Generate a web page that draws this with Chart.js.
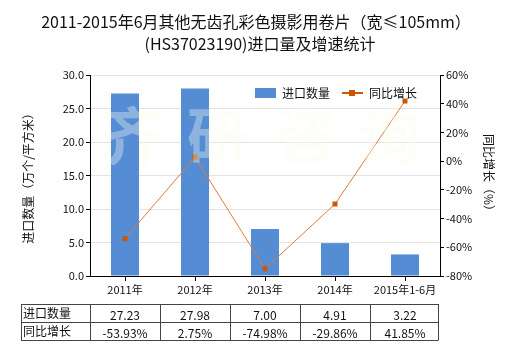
<!DOCTYPE html>
<html>
<head>
<meta charset="utf-8">
<script src="https://cdn.jsdelivr.net/npm/chart.js@4/dist/chart.umd.min.js"></script>
<style>
html,body{margin:0;padding:0;background:#fff;}
#wrap{width:520px;height:350px;position:relative;}
</style>
</head>
<body>
<div id="wrap"><canvas id="c" width="520" height="350"></canvas></div>
<script>
const categories = ['2011年','2012年','2013年','2014年','2015年1-6月'];
const importQty = [27.23, 27.98, 7.00, 4.91, 3.22];
const growthPct = [-53.93, 2.75, -74.98, -29.86, 41.85];
const titleLines = ['2011-2015年6月其他无齿孔彩色摄影用卷片（宽≤105mm）','(HS37023190)进口量及增速统计'];
const seriesNames = ['进口数量','同比增长'];
const leftAxisTitle = '进口数量（万个/平方米）';
const rightAxisTitle = '同比增长（%）';
const watermark = ['齐','研','咨','询'];

const FONT = '"Noto Sans CJK SC", "Noto Sans", sans-serif';
const BLUE = '#548DD4';
const ORANGE_LINE = '#E07A3C';
const ORANGE_PT = '#CC5500';

const overlay = {
  id: 'overlay',
  afterDatasetsDraw(chart) {
    const ctx = chart.ctx;
    ctx.save();
    ctx.font = 'bold 62px ' + FONT;
    ctx.fillStyle = 'rgba(252,252,238,0.35)';
    ctx.textAlign = 'center';
    ctx.textBaseline = 'middle';
    const xs = [132, 218, 305, 390];
    watermark.forEach((ch, i) => ctx.fillText(ch, xs[i], 136));
    ctx.restore();
  },
  afterDraw(chart) {
    const ctx = chart.ctx;
    const ca = chart.chartArea;
    ctx.save();
    ctx.fillStyle = '#111';
    ctx.textAlign = 'center';
    ctx.textBaseline = 'middle';
    ctx.font = '16px ' + FONT;
    ctx.fillText(titleLines[0], 256, 22);
    ctx.fillText(titleLines[1], 260, 44);

    ctx.font = '12px ' + FONT;
    ctx.textAlign = 'left';
    ctx.fillStyle = BLUE;
    ctx.fillRect(255, 88, 21, 10);
    ctx.fillStyle = '#111';
    ctx.fillText(seriesNames[0], 282, 93);
    ctx.strokeStyle = ORANGE_PT;
    ctx.lineWidth = 2;
    ctx.beginPath(); ctx.moveTo(342, 93); ctx.lineTo(363, 93); ctx.stroke();
    ctx.fillStyle = ORANGE_PT;
    ctx.fillRect(349, 90, 6, 6);
    ctx.fillStyle = '#111';
    ctx.fillText(seriesNames[1], 369, 93);

    const xScale = chart.scales.x;
    const step = (ca.right - ca.left) / categories.length;
    const colEdges = [21, ca.left];
    for (let i = 1; i <= categories.length; i++) colEdges.push(ca.left + step * i - (i === categories.length ? 2 : 0));
    const rowEdges = [304, 322, 340];
    ctx.strokeStyle = '#444';
    ctx.lineWidth = 1;
    rowEdges.forEach(y => { ctx.beginPath(); ctx.moveTo(colEdges[0], y + 0.5); ctx.lineTo(colEdges[colEdges.length-1], y + 0.5); ctx.stroke(); });
    colEdges.forEach(x => { ctx.beginPath(); ctx.moveTo(Math.round(x) + 0.5, rowEdges[0]); ctx.lineTo(Math.round(x) + 0.5, rowEdges[2] + 0.5); ctx.stroke(); });
    ctx.font = '12px ' + FONT;
    ctx.fillStyle = '#111';
    ctx.textBaseline = 'middle';
    ctx.textAlign = 'left';
    ctx.fillText(seriesNames[0], 23, 313);
    ctx.fillText(seriesNames[1], 23, 331);
    ctx.textAlign = 'center';
    categories.forEach((c, i) => {
      const cx = xScale.getPixelForValue(i);
      ctx.fillText(importQty[i].toFixed(2), cx, 315);
      ctx.fillText(growthPct[i].toFixed(2) + '%', cx, 333);
    });
    ctx.restore();
  }
};

new Chart(document.getElementById('c'), {
  data: {
    labels: categories,
    datasets: [
      {
        type: 'line',
        label: seriesNames[1],
        data: growthPct,
        yAxisID: 'y1',
        borderColor: ORANGE_LINE,
        borderWidth: 1,
        backgroundColor: ORANGE_PT,
        pointStyle: 'rect',
        pointRadius: 3.5,
        pointBorderWidth: 0,
        pointBackgroundColor: ORANGE_PT,
        tension: 0,
        order: 0
      },
      {
        type: 'bar',
        label: seriesNames[0],
        data: importQty,
        yAxisID: 'y',
        backgroundColor: BLUE,
        categoryPercentage: 1.0,
        barPercentage: 0.4,
        order: 1
      }
    ]
  },
  options: {
    responsive: false,
    animation: false,
    devicePixelRatio: 1,
    layout: { padding: { top: 75, left: 0, right: 0, bottom: 0 } },
    plugins: { legend: { display: false }, title: { display: false }, tooltip: { enabled: false } },
    scales: {
      x: {
        grid: { display: true, drawOnChartArea: false, offset: false, tickLength: 5, color: '#000', tickColor: '#000' },
        border: { color: '#000', width: 1 },
        ticks: { color: '#111', font: { family: FONT, size: 11 }, padding: 2, maxRotation: 0 },
        afterFit(s) { s.height = 74; }
      },
      y: {
        position: 'left',
        min: 0, max: 30,
        ticks: { stepSize: 5, color: '#111', font: { family: FONT, size: 11 }, padding: 2, callback: v => v.toFixed(1) },
        grid: { color: '#E3E3E3', tickColor: '#000', tickLength: 4 },
        border: { color: '#000', width: 1 },
        title: { display: true, text: leftAxisTitle, color: '#111', font: { family: FONT, size: 12 }, padding: { top: 21, bottom: 0 } },
        afterFit(s) { s.width = 90; }
      },
      y1: {
        position: 'right',
        min: -80, max: 60,
        ticks: { stepSize: 20, color: '#111', font: { family: FONT, size: 11 }, padding: 2, callback: v => v + '%' },
        grid: { drawOnChartArea: false, tickColor: '#000', tickLength: 4 },
        border: { color: '#000', width: 1 },
        title: { display: true, text: rightAxisTitle, color: '#111', font: { family: FONT, size: 12 }, padding: { top: 24, bottom: 0 } },
        afterFit(s) { s.width = 80; }
      }
    }
  },
  plugins: [overlay]
});
</script>
</body>
</html>
